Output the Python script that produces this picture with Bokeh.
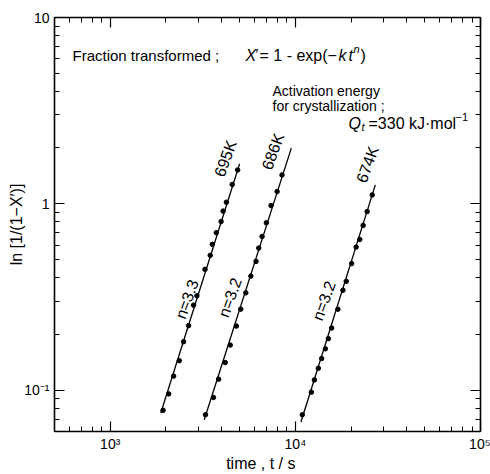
from bokeh.plotting import figure
from bokeh.models import Label, LogAxis, FixedTicker, CustomJSTickFormatter
from bokeh.embed import file_html
from bokeh.resources import INLINE

# Avrami plot: ln[1/(1-X')] against annealing time for three temperatures
t_695 = [1930, 2070, 2200, 2360, 2490, 2650, 2820, 2940, 3250, 3470, 3560,
         3740, 3970, 4070, 4240, 4560, 4880]
y_695 = [0.078, 0.0955, 0.119, 0.144, 0.182, 0.222, 0.286, 0.321, 0.445, 0.529,
         0.606, 0.700, 0.804, 0.914, 1.02, 1.27, 1.52]

t_686 = [3270, 3610, 3850, 4180, 4450, 4800, 5070, 5400, 5750, 6130, 6340,
         6610, 6970, 7390, 7970, 8470]
y_686 = [0.0738, 0.0914, 0.1146, 0.1407, 0.1746, 0.2208, 0.2722, 0.3328, 0.4093,
         0.491, 0.579, 0.668, 0.791, 0.979, 1.164, 1.429]

t_674 = [10900, 12200, 12670, 13310, 13870, 14520, 15070, 15700, 16970, 18070,
         18830, 20140, 21300, 22280, 23230, 24420, 26000]
y_674 = [0.0738, 0.0976, 0.1135, 0.1311, 0.1479, 0.1667, 0.189, 0.2155, 0.2718,
         0.3436, 0.3837, 0.4777, 0.586, 0.644, 0.766, 0.909, 1.117]

# straight-line fits (end points)
fit_695_t = [1875, 5000]
fit_695_y = [0.0754, 1.64]
fit_686_t = [3220, 9510]
fit_686_y = [0.0694, 1.99]
fit_674_t = [10720, 27040]
fit_674_y = [0.0675, 1.264]

temps = ["695K", "686K", "674K"]
exponents = ["n=3.3", "n=3.2", "n=3.2"]

x_ticks = [1e3, 1e4, 1e5]
x_tick_labels = ["10\u00b3", "10\u2074", "10\u2075"]
y_ticks = [0.1, 1.0, 10.0]
y_tick_labels = ["10\u207b\u00b9", "1", "10"]

FONT = "Liberation Sans"
W, H = 490, 474
FL, FR, FT, FB = 54, 10, 17, 41   # borders round the frame

p = figure(width=W, height=H, x_axis_type="log", y_axis_type="log",
           x_range=(500, 1e5), y_range=(0.06, 10),
           min_border_left=FL, min_border_right=FR,
           min_border_top=FT, min_border_bottom=FB,
           output_backend="svg", toolbar_location=None,
           background_fill_color="white", border_fill_color="white")
p.grid.visible = False
p.outline_line_color = None

for t, y, ft, fy in [(t_695, y_695, fit_695_t, fit_695_y),
                     (t_686, y_686, fit_686_t, fit_686_y),
                     (t_674, y_674, fit_674_t, fit_674_y)]:
    p.line(ft, fy, line_color="black", line_width=1.3)
    p.scatter(t, y, size=4.5, marker="circle", fill_color="black", line_color="black")

x_minor = [m * 10.0 ** e for e in range(2, 5) for m in range(2, 10)]
y_minor = [m * 10.0 ** e for e in range(-2, 1) for m in range(2, 10)]

bottom = p.below[0]
left = p.left[0]
top = LogAxis()
right = LogAxis()
p.add_layout(top, "above")
p.add_layout(right, "right")

LOOKUP = """
const i = vals.findIndex(v => Math.abs(Math.log10(v) - Math.log10(tick)) < 1e-6);
return i >= 0 ? labs[i] : "";
"""
bottom.formatter = CustomJSTickFormatter(args=dict(vals=x_ticks, labs=x_tick_labels), code=LOOKUP)
left.formatter = CustomJSTickFormatter(args=dict(vals=y_ticks, labs=y_tick_labels), code=LOOKUP)
blank = CustomJSTickFormatter(code='return "";')
top.formatter = blank
right.formatter = blank

for ax in [bottom, top]:
    ax.ticker = FixedTicker(ticks=x_ticks, minor_ticks=x_minor)
for ax in [left, right]:
    ax.ticker = FixedTicker(ticks=y_ticks, minor_ticks=y_minor)

for ax in [bottom, left, top, right]:
    ax.axis_line_color = "black"
    ax.axis_line_width = 1.6
    ax.major_tick_line_color = "black"
    ax.minor_tick_line_color = "black"
    ax.major_tick_line_width = 1.2
    ax.minor_tick_line_width = 1.0
    ax.major_tick_in = 10
    ax.major_tick_out = 0
    ax.minor_tick_in = 5
    ax.minor_tick_out = 0
    ax.major_label_text_font = FONT
    ax.major_label_text_font_size = "14px"
    ax.major_label_text_color = "black"
    ax.axis_label_text_font = FONT
    ax.axis_label_text_font_style = "normal"
    ax.axis_label_text_color = "black"

for ax in [top, right]:
    ax.major_label_standoff = 0

bottom.major_label_standoff = 4
left.major_label_standoff = 5

bottom.axis_label = "time ,  t  /  s"
bottom.axis_label_text_font_size = "16px"
bottom.axis_label_standoff = 0
left.axis_label = "ln [1/(1\u2212X\u2032)]"
left.axis_label_text_font_size = "16px"
left.axis_label_standoff = -4

frame_bottom = H - FB


def note(text, px, py, size, italic=False, angle=0.0, align="left", baseline="alphabetic"):
    p.add_layout(Label(x=px - FL, y=frame_bottom - py, x_units="screen", y_units="screen",
                       text=text, text_font=FONT, text_font_size=f"{size}px",
                       text_font_style="italic" if italic else "normal",
                       text_color="black", text_align=align, text_baseline=baseline,
                       angle=angle, angle_units="deg"))


# equation in the upper left
note("Fraction transformed ;", 72, 57, 15)
note("X", 245, 57, 16, italic=True)
note("\u2032", 255, 55, 15)
note("= 1 - exp(\u2212", 259, 57, 16)
note("k", 338, 57, 16, italic=True)
note("t", 348, 57, 16, italic=True)
note("n", 353, 50, 11, italic=True)
note(")", 360, 57, 16)

# activation energy note
note("Activation energy", 272, 92, 14)
note("for crystallization ;", 272, 107, 14)
note("Q", 348, 125, 16, italic=True)
note("t", 361, 128, 11, italic=True)
note("=330 kJ\u00b7mol", 368, 125, 16)
note("\u22121", 455, 118, 11)

# temperature and exponent labels along the lines
for text, (px, py) in zip(temps, [(225, 160), (272.5, 153), (367, 166)]):
    note(text, px, py, 16, angle=70, align="center", baseline="middle")
for text, (px, py) in zip(exponents, [(186.5, 300.7), (229.5, 299), (323.5, 302.3)]):
    note(text, px, py, 16, angle=70, align="center", baseline="middle")

open("out.html", "w").write(file_html(p, INLINE))
